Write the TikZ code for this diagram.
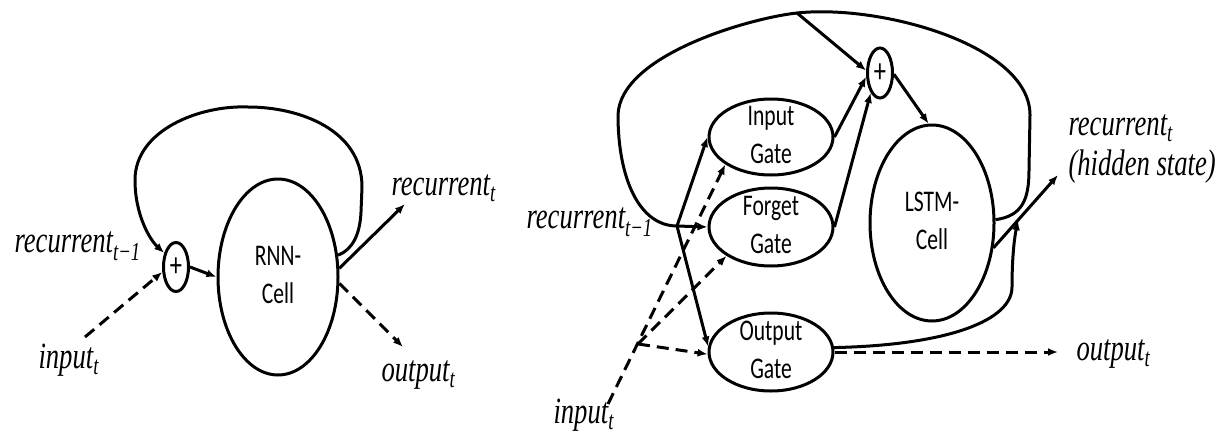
\documentclass[tikz,border=0pt]{standalone}
\usepackage{fontspec}
\usepackage{graphicx}
\newfontfamily\gatefont{Carlito}
\newfontfamily\lblfont{Liberation Serif}
\usetikzlibrary{shapes.geometric,arrows.meta,calc}

% narrow type, as used for every label
\newcommand\sqz[1]{\scalebox{0.72}[1]{#1}}
\newcommand\lblsize{\lblfont\itshape\fontsize{37}{40}\selectfont}
\newcommand\mathlbl[2]{\sqz{\lblsize #1\textsubscript{#2}}}
\newcommand\celltext[1]{\sqz{\gatefont\fontsize{30}{38}\selectfont\begin{tabular}{@{}c@{}}#1\end{tabular}}}
\newcommand\plustext{\sqz{\gatefont\fontsize{34}{34}\selectfont +}}

\tikzset{
  oval/.style={ellipse, draw, inner sep=0pt, line width=3pt},
  arr/.style={-{Latex[length=10pt,width=8pt]}},
  dsh/.style={dash pattern=on 12pt off 7pt},
  lbl/.style={inner sep=0pt, anchor=base west},
}

\begin{document}
\begin{tikzpicture}[x=1pt, y=-1pt, line width=3pt]
\useasboundingbox (0,0) rectangle (1222,436);

% ---------------- simple recurrent cell ----------------
\node[oval, minimum width=120pt, minimum height=196pt,
      label={center:\celltext{RNN-\\Cell}}] (rnn) at (278,277) {};
\node[oval, minimum width=25pt, minimum height=49pt,
      label={center:\plustext}] (sum1) at (176,267) {};

\draw[arr] (sum1.east) -- (rnn.west);
\draw[arr] (rnn.20) .. controls (352,250) and (360,235) .. (361,212)
  -- (362,187) .. controls (362,130) and (300,107) .. (248,107)
  .. controls (200,105) and (135,130) .. (135,180)
  .. controls (135,215) and (150,240) .. (sum1.130);

\coordinate (in1) at (85,337);
\coordinate (rt1) at (405,204);
\coordinate (ot1) at (403,347);
\draw[arr,dsh] (in1) -- (sum1.200);
\draw[arr] (rnn.8) -- (rt1);
\draw[arr,dsh] (rnn.-6) -- (ot1);

\node[lbl] (recprev1) at (13,252) {\mathlbl{recurrent}{t−1}};
\node[lbl] (input1) at (37,368) {\mathlbl{input}{t}};
\node[lbl] (rec1) at (390,195) {\mathlbl{recurrent}{t}};
\node[lbl] (out1) at (380,381) {\mathlbl{output}{t}};

% ---------------- LSTM cell ----------------
\node[oval, minimum width=124pt, minimum height=76pt,
      label={center:\celltext{Input\\Gate}}] (ig) at (771,137) {};
\node[oval, minimum width=124pt, minimum height=78pt,
      label={center:\celltext{Forget\\Gate}}] (fg) at (771,227) {};
\node[oval, minimum width=124pt, minimum height=78pt,
      label={center:\celltext{Output\\Gate}}] (og) at (771,352) {};
\node[oval, minimum width=25pt, minimum height=50pt,
      label={center:\plustext}] (sum2) at (880,73) {};
\node[oval, minimum width=124pt, minimum height=196pt,
      label={center:\celltext{LSTM-\\Cell}}] (lstm) at (932,223) {};

\coordinate (J) at (677,226);
\coordinate (top) at (797,13);
\coordinate (in2) at (608,404);
\coordinate (K) at (638,344);
\coordinate (hout) at (1058,175);
\coordinate (oout) at (1058,352);
\coordinate (hmid) at ($(lstm.-22)!0.38!(hout)$);

% recurrent loop around the cell
\draw (lstm.3) .. controls (1022,216) and (1029,200) .. (1029,170)
  -- (1030,115) .. controls (1030,45) and (880,4) .. (top)
  .. controls (750,18) and (620,55) .. (618,115)
  .. controls (618,180) and (640,226) .. (J);

% previous hidden state into the gates
\draw[arr] (J) -- (ig.west);
\draw[arr] (J) -- (fg.west);
\draw[arr] (J) -- (og.175);

% input into the gates
\draw[arr,dsh] (in2) -- (ig.211);
\draw[arr,dsh] (K) -- (fg.213);
\draw[arr,dsh] (K) -- (og.182);

% cell state update
\draw[arr] (top) -- (sum2.170);
\draw[arr] (ig.east) -- (sum2.195);
\draw[arr] (fg.east) -- (sum2.245);
\draw[arr] (sum2.-5) -- (lstm.92);

% outputs
\draw[arr] (lstm.-22) -- (hout);
\draw[arr] (og.4) .. controls (950,345) and (1012,320) .. (1012,287)
  .. controls (1012,260) and (1014,240) .. (hmid);
\draw[arr,dsh] (og.east) -- (oout);

\node[lbl] (recprev2) at (525,228) {\mathlbl{recurrent}{t−1}};
\node[lbl] (input2) at (552,423) {\mathlbl{input}{t}};
\node[lbl] (rec2) at (1067,135)
  {\sqz{\lblsize\begin{tabular}[t]{@{}l@{}}recurrent\textsubscript{t}\\(hidden state)\end{tabular}}};
\node[lbl] (out2) at (1075,360) {\mathlbl{output}{t}};
\end{tikzpicture}
\end{document}
